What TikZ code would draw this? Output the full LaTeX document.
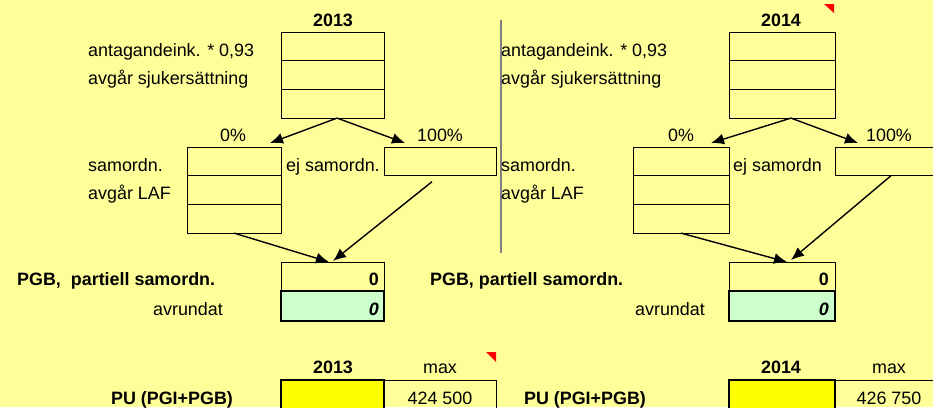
\documentclass[tikz,border=0pt]{standalone}
\usepackage{fontspec}
\setmainfont{Liberation Sans}
\usetikzlibrary{arrows.meta}
\definecolor{sheet}{HTML}{FFFF99}
\definecolor{mint}{HTML}{CCFFCC}
\definecolor{hilite}{HTML}{FFFF00}
\tikzset{
  cell/.style={draw=black, line width=0.9pt, inner sep=0pt, outer sep=0pt, anchor=north west, minimum height=28.7pt},
  thickcell/.style={cell, line width=1.8pt},
  txt/.style={inner sep=0pt, anchor=base west},
  ctr/.style={inner sep=0pt, anchor=base},
  rgt/.style={inner sep=0pt, anchor=base east},
  flow/.style={line width=1.4pt, -{Latex[length=13pt,width=11pt]}},
}
\begin{document}
\fontsize{17.9}{21}\selectfont
\begin{tikzpicture}[x=1pt,y=-1pt]
% sheet
\path[use as bounding box] (0,0) rectangle (933,407);
\clip (0,0) rectangle (933,407);
\fill[sheet] (0,0) rectangle (933,407);
% separator
\draw[gray,line width=1.5pt] (501,20) -- (501,253);

% ---- 2013 ----
\node[ctr,font=\bfseries] (yr13) at (333,26) {2013};
\node[txt] (inc13) at (88,56) {antagandeink. * 0,93};
\node[txt] (sjk13) at (88,84) {avgår sjukersättning};
\node[cell,minimum width=103pt] (t13a) at (281,32) {};
\node[cell,minimum width=103pt] (t13b) at (t13a.south west) {};
\node[cell,minimum width=103pt] (t13c) at (t13b.south west) {};
% split
\node[ctr] (pz13) at (233,141) {0\%};
\node[ctr] (ph13) at (440,141) {100\%};
\node[txt] (sam13) at (88,171) {samordn.};
\node[txt] (laf13) at (88,199) {avgår LAF};
\node[txt] (ejl13) at (286,171) {ej samordn.};
\node[cell,minimum width=94pt] (s13a) at (187,147) {};
\node[cell,minimum width=94pt] (s13b) at (s13a.south west) {};
\node[cell,minimum width=94pt] (s13c) at (s13b.south west) {};
\node[cell,minimum width=112pt] (e13) at (384,147) {};
% result
\node[txt,font=\bfseries] (pgbl13) at (17,285) {PGB,\ \ partiell samordn.};
\node[cell,minimum width=103pt] (pgb13) at (281,262) {};
\node[thickcell,fill=mint,minimum width=103pt,minimum height=30pt] (avr13) at (pgb13.south west) {};
\node[rgt,font=\bfseries] (pgbv13) at (379,285) {0};
\node[rgt,font=\bfseries\itshape] (avrv13) at (379,315) {0};
\node[rgt] (avrl13) at (223,315) {avrundat};
% arrows
\coordinate (k13a) at (270,143);
\coordinate (k13b) at (405,143);
\coordinate (k13c) at (333,261);
\coordinate (k13d) at (329,262);
\draw[flow] ([xshift=4.5pt]t13c.south) -- (k13a);
\draw[flow] ([xshift=4.5pt]t13c.south) -- (k13b);
\draw[flow] ([xshift=-8pt,yshift=-6pt]e13.south) -- (k13c);
\draw[flow] (s13c.south) -- (k13d);
% PU
\node[ctr,font=\bfseries] (yrb13) at (333,373) {2013};
\node[ctr] (max13) at (440,373) {max};
\node[thickcell,fill=hilite,minimum width=103pt,minimum height=40pt] (pu13) at (281,380) {};
\node[cell,minimum width=112pt,minimum height=40pt] (mx13) at (384,380) {};
\node[ctr,font=\bfseries] (pul13) at (172,404) {PU (PGI+PGB)};
\node[ctr] (mxv13) at (440,404) {424 500};
\fill[red] (486,352) -- (496,352) -- (496,362) -- cycle;

% ---- 2014 ----
\node[ctr,font=\bfseries] (yr14) at (781,26) {2014};
\fill[red] (824,4) -- (834,4) -- (834,13) -- cycle;
\node[txt] (inc14) at (501,56) {antagandeink. * 0,93};
\node[txt] (sjk14) at (501,84) {avgår sjukersättning};
\node[cell,minimum width=106pt] (t14a) at (729,32) {};
\node[cell,minimum width=106pt] (t14b) at (t14a.south west) {};
\node[cell,minimum width=106pt] (t14c) at (t14b.south west) {};
% split
\node[ctr] (pz14) at (681,141) {0\%};
\node[ctr] (ph14) at (889,141) {100\%};
\node[txt] (sam14) at (501,171) {samordn.};
\node[txt] (laf14) at (501,199) {avgår LAF};
\node[txt] (ejl14) at (733,171) {ej samordn};
\node[cell,minimum width=96pt] (s14a) at (633,147) {};
\node[cell,minimum width=96pt] (s14b) at (s14a.south west) {};
\node[cell,minimum width=96pt] (s14c) at (s14b.south west) {};
\node[cell,minimum width=115pt] (e14) at (835,147) {};
% result
\node[txt,font=\bfseries] (pgbl14) at (430,285) {PGB, partiell samordn.};
\node[cell,minimum width=106pt] (pgb14) at (729,262) {};
\node[thickcell,fill=mint,minimum width=106pt,minimum height=30pt] (avr14) at (pgb14.south west) {};
\node[rgt,font=\bfseries] (pgbv14) at (829,285) {0};
\node[rgt,font=\bfseries\itshape] (avrv14) at (829,315) {0};
\node[rgt] (avrl14) at (705,315) {avrundat};
% arrows
\coordinate (k14a) at (711,143);
\coordinate (k14b) at (858,143);
\coordinate (k14c) at (791,260);
\coordinate (k14d) at (787,262);
\draw[flow] ([xshift=9pt]t14c.south) -- (k14a);
\draw[flow] ([xshift=9pt]t14c.south) -- (k14b);
\draw[flow] ([xshift=-1.5pt]e14.south) -- (k14c);
\draw[flow] (s14c.south) -- (k14d);
% PU
\node[ctr,font=\bfseries] (yrb14) at (781,373) {2014};
\node[ctr] (max14) at (889,373) {max};
\node[thickcell,fill=hilite,minimum width=106pt,minimum height=40pt] (pu14) at (729,380) {};
\node[cell,minimum width=115pt,minimum height=40pt] (mx14) at (835,380) {};
\node[ctr,font=\bfseries] (pul14) at (585,404) {PU (PGI+PGB)};
\node[ctr] (mxv14) at (889,404) {426 750};
\end{tikzpicture}
\end{document}
